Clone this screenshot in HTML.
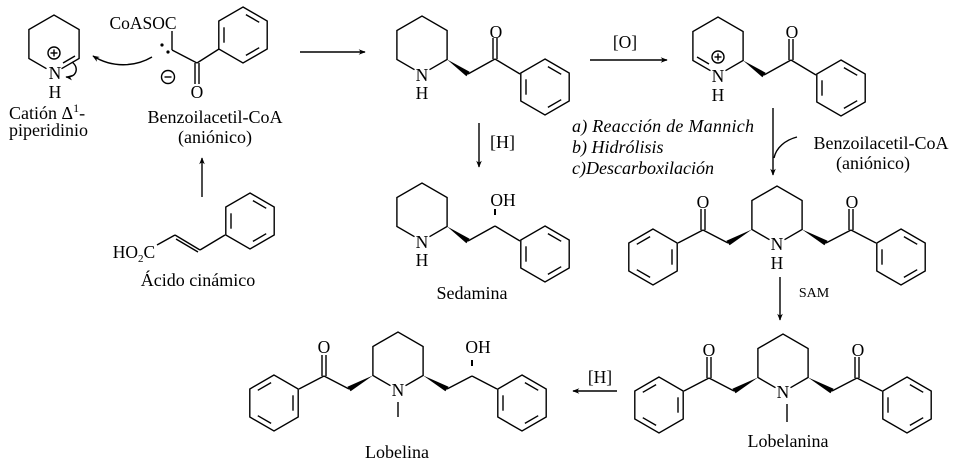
<!DOCTYPE html>
<html><head><meta charset="utf-8"><style>
html,body{margin:0;padding:0;background:#fff;}
svg{display:block;}
text{font-family:"Liberation Serif",serif;fill:#000;}
</style></head><body>
<svg width="960" height="468" viewBox="0 0 960 468" xmlns="http://www.w3.org/2000/svg">
<defs>
<marker id="ah" viewBox="0 0 10 10" refX="9" refY="5" markerWidth="7" markerHeight="7" orient="auto-start-reverse" markerUnits="userSpaceOnUse"><path d="M0,1 L10,5 L0,9 L3,5z" fill="#000"/></marker>
<g id="bz" fill="none" stroke="#000" stroke-width="1.4">
<polygon points="0,-28 24.2,-14 24.2,14 0,28 -24.2,14 -24.2,-14"/>
<line x1="2.9" y1="-20.4" x2="16.2" y2="-12.7"/>
<line x1="16.2" y1="12.7" x2="2.9" y2="20.4"/>
<line x1="-19" y1="7.7" x2="-19" y2="-7.7"/>
</g>
<path id="pip" fill="none" stroke="#000" stroke-width="1.4" d="M-7.5,24.7 L-25.1,14.5 L-25.1,-14.5 L0,-29 L25.1,-14.5 L25.1,14.5 L7.5,24.7"/>
</defs>
<g stroke="#000" stroke-width="1.4" fill="none">

<g transform="translate(54,44)">
<path d="M-7.5,24.7 L-25.1,14.5 L-25.1,-14.5 L0,-29 L25.1,-14.5 L25.1,14.5 L7.5,24.7"/>
<line x1="9" y1="19" x2="21" y2="12"/>
<circle cx="0" cy="9" r="6"/>
<line x1="-3.5" y1="9" x2="3.5" y2="9"/><line x1="0" y1="5.5" x2="0" y2="12.5"/>
<path d="M18,18 C26,24 22,34 12,33" marker-end="url(#ah)"/>
</g>
<path d="M152,57 C135,67 112,68 93,56" marker-end="url(#ah)"/>

<line x1="172" y1="31" x2="172" y2="50"/>
<line x1="172" y1="50" x2="197" y2="63"/>
<line x1="195" y1="63" x2="195" y2="84"/><line x1="199" y1="63" x2="199" y2="84"/>
<line x1="197" y1="63" x2="219" y2="49"/>
<use href="#bz" transform="translate(243,35)"/>
<circle cx="168" cy="77" r="6.5"/><line x1="164.5" y1="77" x2="171.5" y2="77"/>
<line x1="202" y1="197" x2="202" y2="158" marker-end="url(#ah)"/>

<line x1="157" y1="245" x2="175" y2="235"/>
<line x1="175" y1="235" x2="200" y2="250"/><line x1="176" y1="239" x2="198" y2="252"/>
<line x1="200" y1="250" x2="225" y2="235"/>
<use href="#bz" transform="translate(250,221)"/>

<line x1="300" y1="52" x2="365" y2="52" marker-end="url(#ah)"/>

<g transform="translate(422,45)">
<use href="#pip"/>
<polygon points="25.1,14.5 44.4,31.3 47.6,26.7" fill="#000" stroke="none"/>
<line x1="46" y1="29" x2="73" y2="14"/>
<line x1="71" y1="14" x2="71" y2="-7"/><line x1="75" y1="14" x2="75" y2="-7"/>
<line x1="73" y1="14" x2="98" y2="29"/>
<use href="#bz" transform="translate(123,42)"/>
</g>
<line x1="590" y1="60" x2="667" y2="60" marker-end="url(#ah)"/>

<g transform="translate(718,46)">
<use href="#pip"/>
<line x1="-21" y1="11" x2="-9" y2="18"/>
<circle cx="0" cy="11" r="6"/>
<line x1="-3.5" y1="11" x2="3.5" y2="11"/><line x1="0" y1="7.5" x2="0" y2="14.5"/>
<polygon points="25.1,14.5 44.4,31.3 47.6,26.7" fill="#000" stroke="none"/>
<line x1="46" y1="29" x2="73" y2="14"/>
<line x1="71" y1="14" x2="71" y2="-7"/><line x1="75" y1="14" x2="75" y2="-7"/>
<line x1="73" y1="14" x2="98" y2="29"/>
<use href="#bz" transform="translate(123,42)"/>
</g>

<line x1="479" y1="123" x2="479" y2="167" marker-end="url(#ah)"/>

<g transform="translate(422,212)">
<use href="#pip"/>
<polygon points="25.1,14.5 44.4,31.3 47.6,26.7" fill="#000" stroke="none"/>
<line x1="46" y1="29" x2="73" y2="14"/>
<line x1="73" y1="-3" x2="73" y2="3" stroke-width="2"/>
<line x1="73" y1="14" x2="98" y2="29"/>
<use href="#bz" transform="translate(123,42)"/>
</g>

<line x1="773" y1="108" x2="773" y2="175" marker-end="url(#ah)"/>
<path d="M797,137 C785,140 776,148 774,158"/>

<g transform="translate(777,215)">
<use href="#pip"/>
<polygon points="-25.1,14.5 -47.4,30.3 -50.6,25.7" fill="#000" stroke="none"/>
<line x1="-49" y1="28" x2="-74" y2="15"/>
<line x1="-76" y1="15" x2="-76" y2="-6"/><line x1="-72" y1="15" x2="-72" y2="-6"/>
<line x1="-74" y1="15" x2="-99" y2="28"/>
<use href="#bz" transform="translate(-124,42) scale(-1,1)"/>
<polygon points="25.1,14.5 47.4,30.3 50.6,25.7" fill="#000" stroke="none"/>
<line x1="49" y1="28" x2="74" y2="15"/>
<line x1="76" y1="15" x2="76" y2="-6"/><line x1="72" y1="15" x2="72" y2="-6"/>
<line x1="74" y1="15" x2="99" y2="28"/>
<use href="#bz" transform="translate(124,42)"/>
</g>
<line x1="780" y1="277" x2="780" y2="320" marker-end="url(#ah)"/>

<g transform="translate(783,363)">
<use href="#pip"/>
<line x1="4" y1="41" x2="4" y2="59"/>
<polygon points="-25.1,14.5 -47.4,30.3 -50.6,25.7" fill="#000" stroke="none"/>
<line x1="-49" y1="28" x2="-74" y2="15"/>
<line x1="-76" y1="15" x2="-76" y2="-6"/><line x1="-72" y1="15" x2="-72" y2="-6"/>
<line x1="-74" y1="15" x2="-99" y2="28"/>
<use href="#bz" transform="translate(-124,42) scale(-1,1)"/>
<polygon points="25.1,14.5 47.4,30.3 50.6,25.7" fill="#000" stroke="none"/>
<line x1="49" y1="28" x2="74" y2="15"/>
<line x1="76" y1="15" x2="76" y2="-6"/><line x1="72" y1="15" x2="72" y2="-6"/>
<line x1="74" y1="15" x2="99" y2="28"/>
<use href="#bz" transform="translate(124,42)"/>
</g>
<line x1="617" y1="391" x2="573" y2="391" marker-end="url(#ah)"/>

<g transform="translate(398,361)">
<use href="#pip"/>
<line x1="0" y1="41" x2="0" y2="56"/>
<polygon points="-25.1,14.5 -47.4,30.3 -50.6,25.7" fill="#000" stroke="none"/>
<line x1="-49" y1="28" x2="-74" y2="15"/>
<line x1="-76" y1="15" x2="-76" y2="-6"/><line x1="-72" y1="15" x2="-72" y2="-6"/>
<line x1="-74" y1="15" x2="-99" y2="28"/>
<use href="#bz" transform="translate(-124,42) scale(-1,1)"/>
<polygon points="25.1,14.5 47.4,30.3 50.6,25.7" fill="#000" stroke="none"/>
<line x1="49" y1="28" x2="74" y2="15"/>
<line x1="74" y1="-1" x2="74" y2="5" stroke-width="2"/>
<line x1="74" y1="15" x2="99" y2="28"/>
<use href="#bz" transform="translate(124,42)"/>
</g>
</g>

<g font-size="17.5" text-anchor="middle">
<text x="55" y="79">N</text><text x="55" y="98">H</text>
<text x="143" y="29">CoASOC</text>
<text x="197" y="98">O</text>
<text x="134" y="258">HO<tspan font-size="11" dy="4">2</tspan><tspan dy="-4">C</tspan></text>
<text x="422" y="81">N</text><text x="422" y="99">H</text><text x="496" y="38">O</text>
<text x="718" y="82">N</text><text x="718" y="101">H</text><text x="792" y="38">O</text>
<text x="422" y="248">N</text><text x="422" y="266">H</text><text x="503" y="206">OH</text>
<text x="777" y="250">N</text><text x="777" y="269">H</text>
<text x="703" y="208">O</text><text x="852" y="208">O</text>
<text x="783" y="398">N</text><text x="709" y="356">O</text><text x="858" y="356">O</text>
<text x="398" y="396">N</text><text x="324" y="353">O</text><text x="478" y="353">OH</text>
<text x="625" y="48">[O]</text>
<text x="600" y="383">[H]</text>
<text x="814" y="297" font-size="14">SAM</text>
</g>
<g font-size="18">
<text x="9" y="119">Catión Δ<tspan font-size="12" dy="-7">1</tspan><tspan dy="7">-</tspan></text>
<text x="9" y="136">piperidinio</text>
<text x="215" y="123" text-anchor="middle">Benzoilacetil-CoA</text>
<text x="215" y="143" text-anchor="middle">(aniónico)</text>
<text x="198" y="286" text-anchor="middle">Ácido cinámico</text>
<text x="490" y="148">[H]</text>
<text x="472" y="299" text-anchor="middle">Sedamina</text>
<text x="881" y="149" text-anchor="middle">Benzoilacetil-CoA</text>
<text x="873" y="169" text-anchor="middle">(aniónico)</text>
<text x="788" y="447" text-anchor="middle">Lobelanina</text>
<text x="397" y="458" text-anchor="middle">Lobelina</text>
<g font-style="italic">
<text x="572" y="132" textLength="182">a) Reacción de Mannich</text>
<text x="572" y="153">b) Hidrólisis</text>
<text x="572" y="174">c)Descarboxilación</text>
</g>
</g>
<circle cx="162" cy="45" r="1.6"/><circle cx="168" cy="52" r="1.6"/>
</svg>
</body></html>
